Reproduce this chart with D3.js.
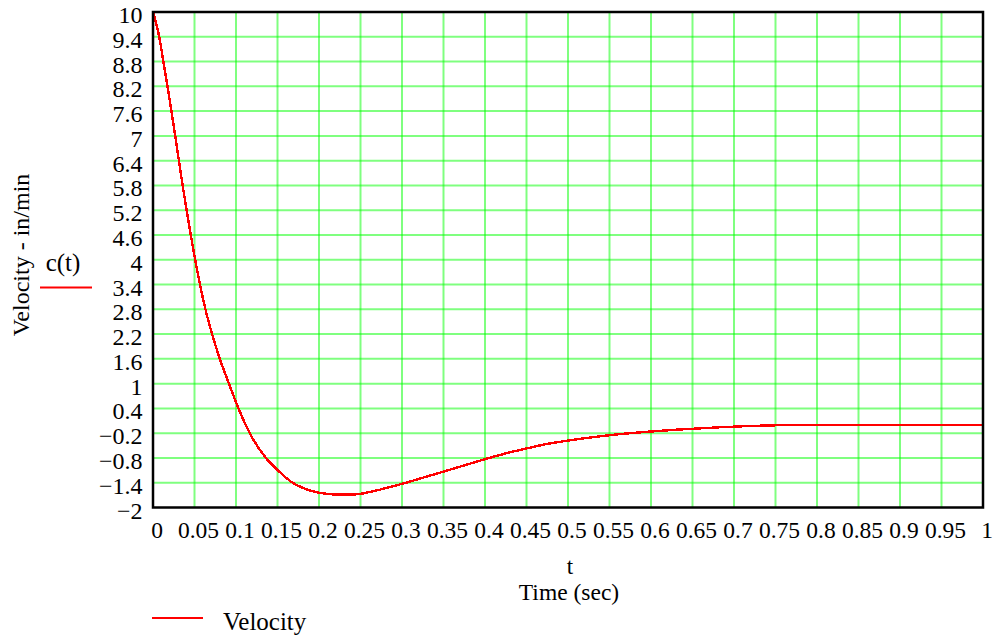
<!DOCTYPE html>
<html>
<head>
<meta charset="utf-8">
<script src="https://cdn.jsdelivr.net/npm/d3@7/dist/d3.min.js"></script>
<style>
  html, body { margin: 0; padding: 0; background: #fff; }
  svg { display: block; font-family: "Liberation Serif", "Times New Roman", serif; }
</style>
</head>
<body>
<svg id="chart" width="993" height="639"></svg>
<script>
// ---- data ----
const timeSec = [0, 0.0075, 0.0125, 0.0175, 0.0222, 0.0268, 0.0312, 0.0357, 0.0405, 0.0455, 0.0508, 0.0566, 0.0632, 0.0712, 0.0805, 0.0915, 0.1030, 0.1165, 0.136, 0.151, 0.166, 0.181, 0.195, 0.210, 0.225, 0.245, 0.260, 0.275, 0.290, 0.305, 0.320, 0.335, 0.350, 0.365, 0.380, 0.400, 0.425, 0.450, 0.475, 0.500, 0.525, 0.550, 0.575, 0.600, 0.635, 0.680, 0.730, 0.780, 0.900, 1.000];
const velocity = [10, 9.4, 8.8, 8.2, 7.6, 7.0, 6.4, 5.8, 5.2, 4.6, 4.0, 3.4, 2.8, 2.2, 1.6, 1.0, 0.4, -0.2, -0.8, -1.11, -1.37, -1.53, -1.62, -1.67, -1.69, -1.68, -1.63, -1.56, -1.48, -1.40, -1.31, -1.22, -1.13, -1.04, -0.95, -0.83, -0.69, -0.57, -0.46, -0.38, -0.31, -0.25, -0.2, -0.16, -0.11, -0.06, -0.02, 0.0, 0.0, 0.0];
const yTicks = [10, 9.4, 8.8, 8.2, 7.6, 7, 6.4, 5.8, 5.2, 4.6, 4, 3.4, 2.8, 2.2, 1.6, 1, 0.4, -0.2, -0.8, -1.4, -2];
const yTickLabels = ["10", "9.4", "8.8", "8.2", "7.6", "7", "6.4", "5.8", "5.2", "4.6", "4", "3.4", "2.8", "2.2", "1.6", "1", "0.4", "\u22120.2", "\u22120.8", "\u22121.4", "\u22122"];
const xTicks = [0, 0.05, 0.1, 0.15, 0.2, 0.25, 0.3, 0.35, 0.4, 0.45, 0.5, 0.55, 0.6, 0.65, 0.7, 0.75, 0.8, 0.85, 0.9, 0.95, 1];
const xTickLabels = ["0", "0.05", "0.1", "0.15", "0.2", "0.25", "0.3", "0.35", "0.4", "0.45", "0.5", "0.55", "0.6", "0.65", "0.7", "0.75", "0.8", "0.85", "0.9", "0.95", "1"];
const seriesName = "Velocity";
const yLabel = "Velocity - in/min";
const yVarLabel = "c(t)";
const xVarLabel = "t";
const xLabel = "Time (sec)";

// ---- layout ----
const L = 153, R = 983, T = 12, B = 507.5;
const svg = d3.select("#chart");
const x = d3.scaleLinear().domain([0, 1]).range([L, R]);
const y = d3.scaleLinear().domain([-2, 10]).range([B, T]);

const gridColor = "rgba(0,255,0,0.5)";
const g = svg.append("g");

// grid
g.append("g").selectAll("line").data(xTicks.slice(1, -1)).join("line")
  .attr("x1", d => x(d)).attr("x2", d => x(d)).attr("y1", T).attr("y2", B)
  .attr("stroke", gridColor).attr("stroke-width", 2);
g.append("g").selectAll("line").data(yTicks.slice(1, -1)).join("line")
  .attr("y1", d => y(d)).attr("y2", d => y(d)).attr("x1", L).attr("x2", R)
  .attr("stroke", gridColor).attr("stroke-width", 2);

// curve
const pts = timeSec.map((t, i) => [t, velocity[i]]);
g.append("path").datum(pts)
  .attr("fill", "none").attr("stroke", "#ff0000").attr("stroke-width", 2.4)
  .attr("shape-rendering", "crispEdges")
  .attr("d", d3.line().x(d => x(d[0])).y(d => y(d[1])).curve(d3.curveMonotoneX));

// frame
g.append("rect").attr("x", L).attr("y", T).attr("width", R - L).attr("height", B - T)
  .attr("fill", "none").attr("stroke", "#000").attr("stroke-width", 2.5);

// y tick labels
g.append("g").selectAll("text").data(yTicks).join("text")
  .attr("x", 142.5).attr("y", d => y(d) + 11)
  .attr("text-anchor", "end").attr("font-size", 24).attr("fill", "#000")
  .text((d, i) => yTickLabels[i]);

// x tick labels
g.append("g").selectAll("text").data(xTicks).join("text")
  .attr("x", d => x(d) + 4).attr("y", 538)
  .attr("text-anchor", "middle").attr("font-size", 23.5).attr("fill", "#000")
  .text((d, i) => xTickLabels[i]);

// axis titles
svg.append("text").attr("x", 570).attr("y", 574).attr("text-anchor", "middle")
  .attr("font-size", 23).text(xVarLabel);
svg.append("text").attr("x", 569).attr("y", 600).attr("text-anchor", "middle")
  .attr("font-size", 23.5).text(xLabel);
svg.append("text").attr("transform", "translate(29,255) rotate(-90)").attr("text-anchor", "middle")
  .attr("font-size", 24).text(yLabel);
svg.append("text").attr("x", 63).attr("y", 271).attr("text-anchor", "middle")
  .attr("font-size", 25).text(yVarLabel);
svg.append("line").attr("x1", 40).attr("x2", 92).attr("y1", 287.5).attr("y2", 287.5)
  .attr("stroke", "#ff0000").attr("stroke-width", 2);

// legend
svg.append("line").attr("x1", 152).attr("x2", 203).attr("y1", 618).attr("y2", 618)
  .attr("stroke", "#ff0000").attr("stroke-width", 2);
svg.append("text").attr("x", 223).attr("y", 630).attr("font-size", 25).text(seriesName);
</script>
</body>
</html>
